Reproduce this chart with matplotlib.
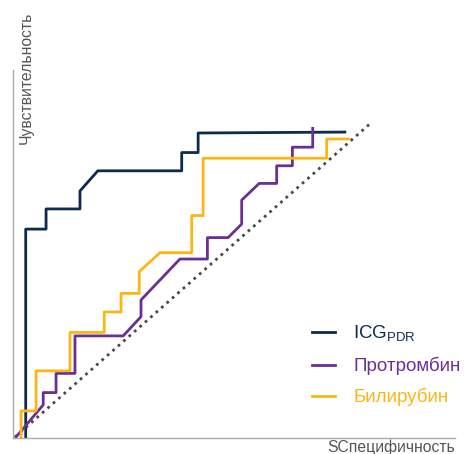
import numpy as np
import matplotlib.pyplot as plt

plt.rcParams['font.family'] = ['Liberation Sans', 'DejaVu Sans']
plt.rcParams['mathtext.fontset'] = 'custom'
plt.rcParams['mathtext.rm'] = 'Liberation Sans'

# ROC curves (1 - specificity, sensitivity)
icg_x = [0.030, 0.030, 0.087, 0.087, 0.182, 0.182, 0.232, 0.467, 0.467, 0.513, 0.513, 0.924]
icg_y = [0.000, 0.660, 0.660, 0.724, 0.724, 0.781, 0.845, 0.845, 0.903, 0.903, 0.965, 0.968]

pt_x = [0.003, 0.079, 0.079, 0.115, 0.115, 0.168, 0.168, 0.303, 0.353, 0.353, 0.462,
        0.539, 0.539, 0.597, 0.635, 0.635, 0.684, 0.733, 0.733, 0.777, 0.777, 0.834, 0.834]
pt_y = [0.000, 0.102, 0.141, 0.141, 0.202, 0.202, 0.321, 0.321, 0.382, 0.435, 0.565,
        0.565, 0.633, 0.633, 0.676, 0.752, 0.805, 0.805, 0.861, 0.861, 0.920, 0.920, 0.980]

bil_x = [0.017, 0.017, 0.059, 0.059, 0.154, 0.154, 0.250, 0.250, 0.297, 0.297, 0.348,
         0.348, 0.406, 0.495, 0.495, 0.527, 0.527, 0.873, 0.873, 0.934]
bil_y = [0.000, 0.083, 0.083, 0.210, 0.210, 0.332, 0.332, 0.397, 0.397, 0.456, 0.456,
         0.525, 0.585, 0.585, 0.703, 0.703, 0.885, 0.885, 0.946, 0.946]

labels = ['ICG$_{\\mathrm{PDR}}$', 'Протромбин', 'Билирубин']
colors = ['#0e2a4f', '#6a2f93', '#fbb615']

fig = plt.figure(figsize=(4.71, 4.54), dpi=100)
ax = fig.add_axes([0.0276, 0.0352, 0.9384, 0.8106])

ax.plot([0, 1], [0, 1], color='#4a4a4a', lw=2, linestyle=(0, (1, 1.6)))
ax.plot(icg_x, icg_y, color=colors[0], lw=2, label=labels[0], clip_on=False)
ax.plot(pt_x, pt_y, color=colors[1], lw=2, label=labels[1], clip_on=False)
ax.plot(bil_x, bil_y, color=colors[2], lw=2, label=labels[2], clip_on=False)

ax.set_xlim(-0.0056, 1.2325)
ax.set_ylim(-0.0032, 1.165)
ax.set_xticks([])
ax.set_yticks([])
for s in ['top', 'right']:
    ax.spines[s].set_visible(False)
for s in ['left', 'bottom']:
    ax.spines[s].set_color('#aaaaaa')
    ax.spines[s].set_linewidth(1)

leg = ax.legend(loc='upper left', bbox_to_anchor=(0.627, 0.324), bbox_transform=fig.transFigure,
                frameon=False, fontsize=13.5, handlelength=1.2, handletextpad=1.0,
                labelspacing=0.68, labelcolor='linecolor')

fig.text(0.056, 0.975, 'Чувствительность', rotation=90, ha='center', va='top',
         fontsize=11.3, color='#555555')
fig.text(0.967, -0.002, 'SCпецифичность', ha='right', va='bottom',
         fontsize=11.3, color='#555555')

fig.savefig('out.png', dpi=100)
